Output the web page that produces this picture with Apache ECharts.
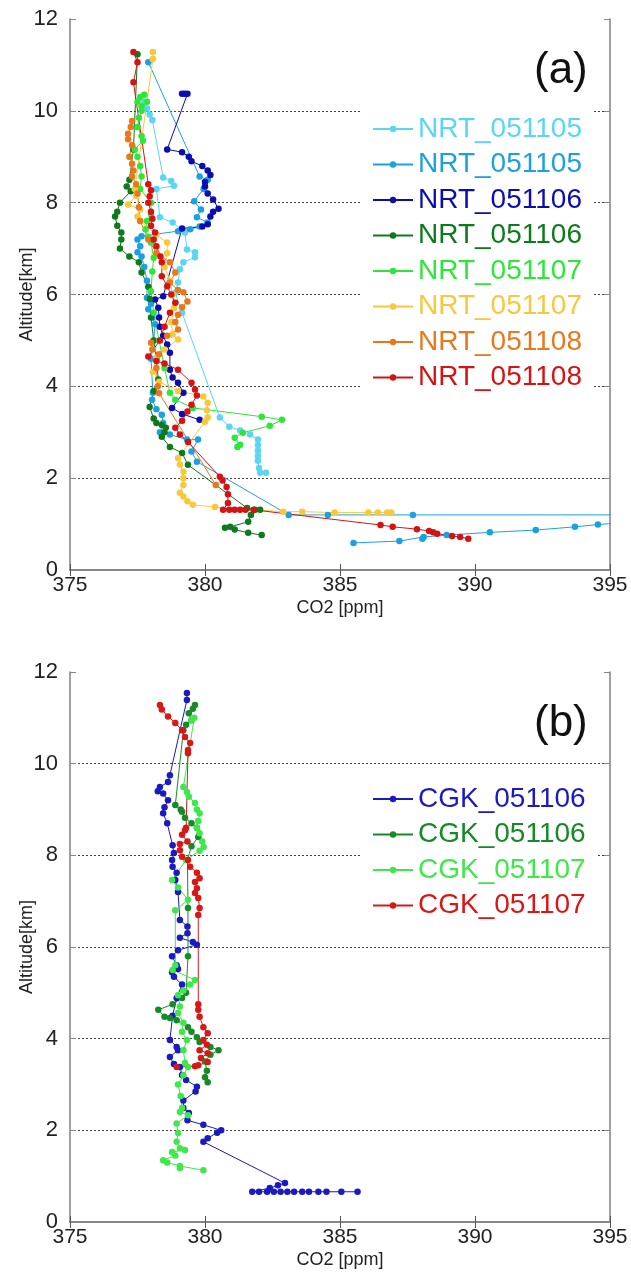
<!DOCTYPE html>
<html><head><meta charset="utf-8">
<script src="https://cdn.jsdelivr.net/npm/echarts@6/dist/echarts.min.js"></script>
<style>html,body{margin:0;padding:0;background:#fff}#c{width:631px;height:1283px}</style>
</head><body><div id="c"></div>
<script>
// ---- data: [CO2 ppm, altitude km] ----
const xTicks = [375, 380, 385, 390, 395];
const yTicks = [0, 2, 4, 6, 8, 10, 12];

const nrt051105a = [[377.75,10.2],[377.85,10.05],[377.95,9.92],[378.05,9.8],[378.45,8.55],[378.75,8.47],[378.85,8.37],[378.2,8.3],[378.33,7.68],[378.8,7.57],[379.26,7.35],[379.33,6.98],[379.63,6.92],[379.63,6.81],[379.2,6.7],[379.07,6.55],[379.0,6.26],[378.9,6.04],[379.15,5.6],[380.55,3.32],[380.9,3.12],[381.3,3.04],[381.67,2.95],[381.96,2.84],[381.96,2.72],[381.96,2.6],[381.96,2.49],[381.96,2.38],[382.0,2.22],[382.04,2.12],[382.26,2.12]];
const nrt051105b = [[377.9,11.06],[379.8,8.57],[380.1,8.5],[379.95,8.3],[379.6,8.03],[379.85,7.85],[379.7,7.68],[380.1,7.57],[379.8,7.48],[379.45,7.42],[379.0,7.38],[377.65,7.27],[377.5,7.2],[377.6,7.05],[377.5,6.92],[377.65,6.83],[377.75,6.6],[377.85,6.3],[377.85,5.93],[378.0,5.8],[377.9,5.68],[378.05,5.5],[378.15,5.35],[378.1,5.0],[378.0,4.6],[378.07,3.86],[378.04,3.71],[378.2,3.5],[378.4,3.38],[378.45,3.2],[378.33,3.0],[378.7,2.95],[379.33,2.84],[379.74,2.84],[379.5,2.58],[379.7,2.36],[383.1,1.2],[384.55,1.2],[387.7,1.2],[397,1.2],[397,1.1],[394.55,0.99],[393.7,0.94],[392.25,0.87],[390.55,0.82],[388.95,0.76],[388.1,0.72],[388.05,0.68],[387.2,0.63],[385.5,0.59]];
const nrt051106a = [[379.15,10.37],[379.25,10.37],[379.35,10.37],[378.6,9.16],[379.15,9.1],[379.4,9.0],[379.5,8.9],[379.9,8.8],[380.1,8.7],[380.2,8.6],[380.0,8.45],[380.0,8.35],[380.1,8.2],[380.3,8.07],[380.5,7.87],[380.3,7.8],[380.2,7.7],[380.1,7.53],[379.9,7.48],[379.15,7.44],[378.45,5.96],[378.15,5.89],[378.27,5.71],[378.3,5.5],[378.33,5.3],[378.45,5.1],[378.6,4.91],[378.7,4.73],[378.7,4.36],[378.8,4.19],[379.0,4.08],[379.2,3.86],[378.78,3.53],[379.15,3.4],[379.8,3.27]];
const nrt051106b = [[377.5,11.23],[377.35,9.16],[377.2,8.5],[377.1,8.35],[377.25,8.25],[376.85,8.0],[376.75,7.8],[376.67,7.7],[376.75,7.5],[376.9,7.35],[376.9,7.2],[376.85,7.0],[377.2,6.83],[377.55,6.7],[377.65,6.48],[377.9,6.17],[377.95,5.9],[378.0,5.5],[378.1,5.0],[378.2,4.6],[378.27,4.15],[378.1,3.9],[377.95,3.55],[378.1,3.3],[378.2,3.2],[378.4,3.16],[378.55,3.1],[378.5,3.0],[378.4,2.9],[378.7,2.68],[379.15,2.55],[379.37,2.29],[381.56,1.35],[381.85,1.31],[382.04,1.31],[381.7,1.2],[381.6,1.05],[380.93,0.94],[380.74,0.92],[381.1,0.88],[381.6,0.81],[382.1,0.76]];
const nrt051107a = [[377.75,10.35],[377.6,10.3],[377.5,10.2],[377.65,10.1],[377.85,10.2],[377.65,10.0],[377.55,9.85],[377.5,9.65],[377.65,9.45],[377.7,9.35],[377.4,9.16],[377.5,9.0],[377.6,8.8],[377.65,8.57],[377.6,8.3],[378.0,8.0],[378.0,7.75],[377.85,7.6],[377.8,7.42],[377.9,7.25],[378.0,7.13],[378.1,6.8],[378.05,6.5],[378.0,6.07],[378.1,5.6],[378.3,5.0],[378.5,4.4],[378.7,3.86],[378.9,3.71],[379.55,3.53],[382.1,3.34],[382.85,3.27],[382.4,3.14],[381.4,2.99],[381.1,2.88],[381.3,2.73],[381.2,2.68]];
const nrt051107b = [[378.07,11.28],[378.07,11.13],[377.4,8.3],[377.45,8.15],[377.15,7.96],[377.6,7.85],[377.5,7.7],[377.6,7.6],[378.2,7.3],[378.6,7.13],[378.6,6.9],[378.5,6.6],[378.7,6.3],[378.8,6.0],[378.85,5.7],[378.75,5.4],[378.8,5.13],[379.0,5.02],[378.5,4.8],[378.2,4.63],[378.07,4.32],[378.3,4.1],[379.0,3.9],[379.94,3.78],[380.1,3.64],[380.07,3.48],[380.1,3.32],[380.0,3.23],[379.0,2.44],[379.07,2.3],[379.2,2.14],[379.2,2.0],[379.2,1.85],[379.07,1.68],[379.2,1.6],[379.35,1.5],[379.55,1.42],[380.37,1.37],[382.9,1.27],[383.6,1.27],[384.8,1.25],[386.05,1.25],[386.4,1.25],[386.75,1.25],[386.9,1.25]];
const nrt051108a = [[377.3,9.78],[377.25,9.65],[377.15,9.5],[377.15,9.38],[377.3,9.25],[377.2,9.0],[377.3,8.85],[377.35,8.7],[377.3,8.57],[377.45,8.4],[377.5,8.2],[377.55,7.9],[377.6,7.6],[377.9,7.2],[378.2,6.9],[378.7,6.7],[378.9,6.48],[378.7,6.26],[379.0,6.1],[379.2,6.05],[379.35,5.85],[379.15,5.72],[379.0,5.56],[378.9,5.4],[379.0,5.24],[378.6,5.1],[378.0,4.95],[378.05,4.8],[378.3,4.7],[378.2,4.4],[378.25,4.0],[378.3,3.85],[380.4,1.85]];
const nrt051108b = [[377.35,11.28],[377.5,11.06],[377.35,10.62],[377.9,8.4],[378.0,8.27],[377.95,8.14],[377.9,8.0],[378.0,7.8],[378.05,7.65],[378.0,7.5],[378.15,7.35],[378.1,7.2],[378.2,7.05],[378.35,6.83],[378.4,6.7],[378.4,6.4],[378.6,6.18],[378.75,6.0],[378.9,5.82],[378.7,5.6],[378.5,5.3],[378.33,5.0],[377.9,4.65],[378.2,4.55],[378.5,4.5],[379.0,4.36],[379.5,4.08],[379.63,3.93],[379.7,3.8],[379.5,3.6],[379.35,3.45],[379.15,3.25],[378.9,3.1],[379.07,2.95],[379.37,2.79],[380.55,2.03],[380.65,1.95],[380.8,1.81],[380.85,1.65],[380.85,1.46],[380.67,1.31],[380.9,1.31],[381.1,1.31],[381.3,1.31],[381.5,1.31],[381.8,1.31],[386.5,0.98],[386.95,0.94],[387.85,0.89],[388.3,0.85],[388.45,0.82],[388.6,0.79],[389.15,0.74],[389.45,0.72],[389.75,0.68]];

const cgk051106a = [[379.33,11.54],[379.33,11.39],[378.7,9.75],[378.63,9.6],[378.33,9.49],[378.25,9.4],[378.45,9.35],[378.63,9.2],[378.5,9.05],[378.45,8.92],[378.6,8.7],[378.8,8.22],[378.85,8.05],[378.78,7.9],[378.8,7.75],[378.95,7.62],[378.9,7.46],[379.0,7.2],[379.07,6.59],[379.35,6.45],[379.35,6.3],[379.07,6.2],[379.55,6.11],[379.7,6.05],[379.0,5.93],[378.78,5.8],[378.95,5.6],[379.0,5.52],[378.78,5.45],[378.85,5.35],[379.15,5.18],[378.95,4.89],[378.8,4.5],[378.7,3.97],[378.95,3.82],[379.0,3.75],[378.7,3.6],[378.85,3.45],[379.07,3.38],[379.15,3.21],[379.3,3.1],[379.7,2.95],[379.65,2.85],[379.2,2.65],[379.2,2.49],[379.4,2.38],[379.35,2.22],[379.94,2.12],[380.6,2.0],[380.45,1.95],[380.1,1.83],[379.94,1.75],[382.96,0.85],[382.7,0.8],[382.4,0.74],[381.75,0.66],[382.0,0.66],[382.3,0.66],[382.55,0.66],[382.8,0.66],[383.05,0.66],[383.3,0.66],[383.6,0.66],[383.85,0.66],[384.2,0.66],[384.5,0.66],[385.05,0.66],[385.65,0.66]];
const cgk051106b = [[379.63,11.28],[379.55,11.2],[379.4,11.1],[379.5,10.95],[379.3,10.85],[379.2,10.73],[378.9,9.1],[379.1,9.0],[379.15,8.95],[379.26,8.82],[379.5,8.7],[379.7,8.6],[379.75,8.4],[379.5,8.2],[379.35,7.9],[379.37,6.85],[379.37,5.8],[379.3,5.0],[379.15,4.89],[378.8,4.75],[378.27,4.63],[378.5,4.48],[378.7,4.45],[378.95,4.4],[379.37,4.25],[379.5,4.15],[379.7,4.03],[379.8,3.93],[380.2,3.82],[380.5,3.75],[380.2,3.65],[380.0,3.5],[380.07,3.3],[380.0,3.16],[380.1,3.05]];
const cgk051107a = [[379.5,10.95],[379.6,11.0],[379.2,9.49],[379.33,9.38],[379.4,9.28],[379.63,9.14],[379.7,9.0],[379.8,8.92],[379.75,8.75],[379.7,8.6],[379.8,8.48],[379.9,8.3],[379.95,8.18],[379.8,8.1],[379.3,7.9],[378.78,7.46],[379.0,7.3],[379.37,7.03],[378.9,6.8],[378.9,5.6],[378.8,5.5],[379.63,5.28],[379.45,5.18],[379.2,5.05],[379.0,4.95],[379.07,4.7],[379.0,4.56],[379.2,4.35],[379.15,4.15],[379.33,3.97],[379.2,3.75],[379.26,3.47],[379.37,3.38],[379.2,3.2],[379.0,3.0],[379.1,2.75],[379.15,2.49],[379.07,2.4],[379.37,2.33],[378.95,2.15],[379.0,1.94],[378.95,1.75],[379.07,1.61],[379.26,1.57],[378.78,1.53],[378.9,1.45],[378.45,1.35],[378.6,1.3],[379.07,1.22],[379.07,1.18],[379.94,1.13]];
const cgk051107b = [[378.33,11.28],[378.4,11.18],[378.63,11.03],[378.9,10.89],[379.15,10.73],[379.26,10.58],[379.45,10.45],[379.37,10.3],[379.37,10.23],[379.3,8.6],[379.26,8.55],[379.15,8.45],[379.35,8.3],[379.07,8.25],[379.07,8.11],[379.15,7.97],[379.37,7.9],[379.45,7.75],[379.7,7.62],[379.8,7.5],[379.63,7.42],[379.7,7.28],[379.63,7.18],[379.75,7.07],[379.8,6.85],[379.75,6.7],[379.75,4.75],[379.75,4.63],[379.8,4.48],[379.94,4.25],[380.1,4.12],[379.94,3.97],[380.07,3.87],[379.8,3.75],[380.1,3.68],[379.85,3.58],[380.1,3.49],[379.75,3.42],[379.63,3.4],[378.95,3.38]];

const panelA = [
  {name:'NRT_051105#1', color:'#5AD6F2', data:nrt051105a},
  {name:'NRT_051105#2', color:'#1BA1E2', data:nrt051105b},
  {name:'NRT_051106#1', color:'#0C0CB0', data:nrt051106a},
  {name:'NRT_051106#2', color:'#0E7A1E', data:nrt051106b},
  {name:'NRT_051107#1', color:'#2EE63A', data:nrt051107a},
  {name:'NRT_051107#2', color:'#F8C83C', data:nrt051107b},
  {name:'NRT_051108#1', color:'#E8781E', data:nrt051108a},
  {name:'NRT_051108#2', color:'#D41414', data:nrt051108b}
];
const panelB = [
  {name:'CGK_051106#1', color:'#1A1AC0', data:cgk051106a},
  {name:'CGK_051106#2', color:'#178A28', data:cgk051106b},
  {name:'CGK_051107#1', color:'#3EE84A', data:cgk051107a},
  {name:'CGK_051107#2', color:'#D81818', data:cgk051107b}
];

const FONT = 'Liberation Sans, Arial, sans-serif';
const AX = '#808080';
const grids = [
  {left:70, top:19, width:540, height:551, show:false, containLabel:false, outerBoundsMode:'none'},
  {left:70, top:672, width:540, height:550, show:false, containLabel:false, outerBoundsMode:'none'}
];
const xAxes = [], yAxes = [];
grids.forEach((g, i) => {
  xAxes.push({type:'value', gridIndex:i, min:xTicks[0], max:xTicks[xTicks.length-1], interval:5, position:'bottom',
    axisLine:{show:true, lineStyle:{color:AX, width:1.5}},
    axisTick:{show:true, inside:true, length:6, lineStyle:{color:'#555'}},
    axisLabel:{color:'#222', fontSize:21, fontFamily:FONT, margin:5},
    splitLine:{show:false},
    name:'CO2 [ppm]', nameLocation:'middle', nameGap:29, nameMoveOverlap:false,
    nameTextStyle:{color:'#222', fontSize:18, fontFamily:FONT}});
  xAxes.push({type:'value', gridIndex:i, min:xTicks[0], max:xTicks[xTicks.length-1], interval:5, position:'top',
    axisLine:{show:true, lineStyle:{color:AX, width:1.5}},
    axisTick:{show:true, inside:true, length:6, lineStyle:{color:'#555'}},
    axisLabel:{show:false}, splitLine:{show:false}});
  yAxes.push({type:'value', gridIndex:i, min:yTicks[0], max:yTicks[yTicks.length-1], interval:2, position:'left',
    axisLine:{show:true, lineStyle:{color:AX, width:1.5}},
    axisTick:{show:true, inside:true, length:6, lineStyle:{color:'#888'}},
    axisLabel:{color:'#222', fontSize:22, fontFamily:FONT, margin:12},
    splitLine:{show:true, showMinLine:false, showMaxLine:false, lineStyle:{color:'#444', type:[2,2], width:1}},
    name:'Altitude[km]', nameLocation:'middle', nameGap:34, nameRotate:90, nameMoveOverlap:false,
    nameTextStyle:{color:'#222', fontSize:18, fontFamily:FONT}});
  yAxes.push({type:'value', gridIndex:i, min:yTicks[0], max:yTicks[yTicks.length-1], interval:2, position:'right',
    axisLine:{show:true, lineStyle:{color:AX, width:1.5}},
    axisTick:{show:true, inside:true, length:6, lineStyle:{color:'#888'}},
    axisLabel:{show:false}, splitLine:{show:false}});
});

const series = [];
[panelA, panelB].forEach((panel, i) => {
  panel.forEach(s => {
    series.push({type:'line', name:s.name, xAxisIndex:i*2, yAxisIndex:i*2, data:s.data,
      symbol:'circle', symbolSize:6.5, showSymbol:true, clip:true,
      lineStyle:{color:s.color, width:1}, itemStyle:{color:s.color}});
  });
});

function mkLegend(panel, top) {
  return {orient:'vertical', left:362, top:top, backgroundColor:'#fff',
    padding:[6,12,6,10], itemWidth:40, itemHeight:8, itemGap:7.5,
    formatter: n => n.split('#')[0],
    textStyle:{fontSize:28, fontFamily:FONT, lineHeight:28},
    data: panel.map(s => ({name:s.name, textStyle:{color:s.color}}))};
}

const chart = echarts.init(document.getElementById('c'), null, {renderer:'canvas'});
chart.setOption({
  animation:false,
  backgroundColor:'#fff',
  grid:grids, xAxis:xAxes, yAxis:yAxes, series:series,
  legend:[mkLegend(panelA, 109), mkLegend(panelB, 779)],
  graphic:[
    {type:'text', left:534, top:49, style:{text:'(a)', font:'44px ' + FONT, fill:'#111'}},
    {type:'text', left:534, top:702, style:{text:'(b)', font:'44px ' + FONT, fill:'#111'}}
  ]
});
</script></body></html>
